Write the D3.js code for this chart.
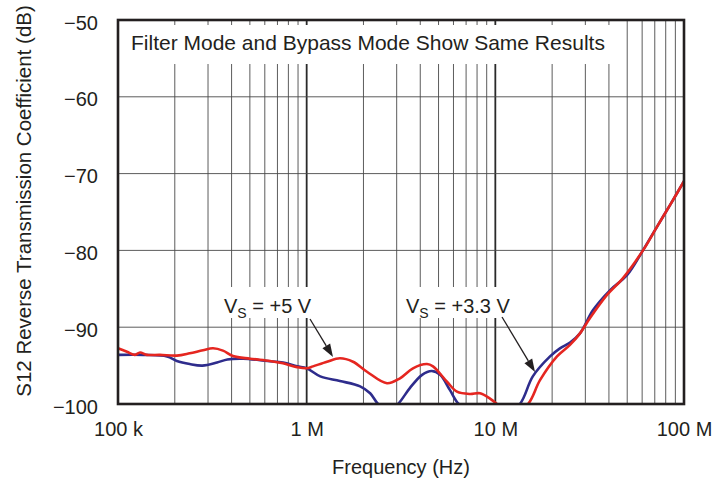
<!DOCTYPE html>
<html>
<head>
<meta charset="utf-8">
<script src="https://cdn.jsdelivr.net/npm/d3@7/dist/d3.min.js"></script>
<style>
  html, body { margin: 0; padding: 0; background: #fff; }
  svg { display: block; }
  text { font-family: "Liberation Sans", Arial, Helvetica, sans-serif; fill: #231f20; }
</style>
</head>
<body>
<svg id="chart" width="717" height="478"></svg>
<script>
// ---- data (frequency in Hz, S12 in dB) ----
const yTickValues = [-50, -60, -70, -80, -90, -100];
const xTickValues = [1e5, 1e6, 1e7, 1e8];
const xTickLabels = ["100 k", "1 M", "10 M", "100 M"];

// Vs = +5 V (red)
const freq5V = [1e5, 1.116e5, 1.23e5, 1.308e5, 1.424e5, 1.67e5, 2.05e5, 2.4e5, 2.82e5, 3.19e5, 3.6e5, 4.07e5,
  5.01e5, 6.39e5, 7.49e5, 8.89e5, 1.0e6, 1.08e6, 1.282e6, 1.5e6, 1.76e6, 2.088e6, 2.666e6, 3.124e6, 3.66e6,
  4.343e6, 4.673e6, 5.544e6, 6.263e6, 7.34e6, 8.29e6, 9.37e6, 1.02e7, 1.2e7, 1.49e7, 1.725e7, 2.123e7,
  2.487e7, 2.81e7, 3.176e7, 3.907e7, 4.751e7, 6.06e7, 7.2e7, 8.43e7, 1e8];
const s12_5V = [-92.75, -93.2, -93.6, -93.3, -93.6, -93.6, -93.7, -93.4, -93.0, -92.75, -93.05, -93.75,
  -94.1, -94.4, -94.7, -95.2, -95.35, -95.1, -94.5, -94.05, -94.5, -95.8, -97.3, -96.65, -95.35,
  -94.8, -95.1, -97.1, -98.4, -98.7, -98.6, -99.3, -100.0, -101.5, -100.0, -96.9, -93.8,
  -92.3, -90.8, -88.8, -85.8, -83.6, -80.0, -76.9, -74.1, -71.0];

// Vs = +3.3 V (blue)
const freq3V3 = [1e5, 1.36e5, 1.82e5, 2.05e5, 2.4e5, 2.8e5, 3.35e5, 3.8e5, 4.6e5, 6.2e5, 7.5e5, 8.9e5,
  1.0e6, 1.18e6, 1.5e6, 1.92e6, 2.17e6, 2.39e6, 2.7e6, 3.05e6, 3.53e6, 4.09e6, 4.6e6, 5.1e6, 5.75e6,
  6.4e6, 8e6, 1.1e7, 1.35e7, 1.58e7, 1.95e7, 2.2e7, 2.49e7, 2.81e7, 3.29e7, 4.05e7, 5e7, 6.06e7,
  7.2e7, 8.43e7, 1e8];
const s12_3V3 = [-93.6, -93.6, -93.8, -94.4, -94.8, -95.0, -94.6, -94.2, -94.1, -94.4, -94.6, -95.1,
  -95.35, -96.4, -97.0, -97.7, -98.6, -100.0, -101.0, -100.0, -97.9, -96.2, -95.7, -96.2, -98.2,
  -100.0, -101.5, -101.5, -100.0, -96.4, -93.8, -92.75, -92.0, -90.8, -87.8, -85.2, -83.2, -80.0,
  -76.9, -74.1, -71.0];

const titleText = "Filter Mode and Bypass Mode Show Same Results";
const xTitle = "Frequency (Hz)";
const yTitle = "S12 Reverse Transmission Coefficient (dB)";

// ---- layout ----
const svg = d3.select("#chart");
const L = 118, R = 684, T = 20, B = 404;
const x = d3.scaleLog().domain([1e5, 1e8]).range([L, R]);
const y = d3.scaleLinear().domain([-100, -50]).range([B, T]);

svg.append("defs").append("clipPath").attr("id", "plotclip")
  .append("rect").attr("x", L).attr("y", T).attr("width", R - L).attr("height", B - T);

// grid
const grid = svg.append("g");
const minor = x.ticks().filter(d => d > 1e5 && d < 1e8);
grid.selectAll("line.v").data(minor).enter().append("line")
  .attr("x1", d => x(d)).attr("x2", d => x(d)).attr("y1", T).attr("y2", B)
  .attr("stroke", d => xTickValues.includes(d) ? "#2a2a2a" : "#4a4a4a")
  .attr("stroke-width", d => xTickValues.includes(d) ? 1.8 : 0.9);
grid.selectAll("line.h").data(yTickValues.slice(1, -1)).enter().append("line")
  .attr("x1", L).attr("x2", R).attr("y1", d => y(d)).attr("y2", d => y(d))
  .attr("stroke", "#4a4a4a").attr("stroke-width", 0.9);

// white boxes behind texts
svg.append("rect").attr("x", L + 2).attr("y", 25).attr("width", 500).attr("height", 39).attr("fill", "#fff");
svg.append("rect").attr("x", 218).attr("y", 287).attr("width", 100).attr("height", 31).attr("fill", "#fff");
svg.append("rect").attr("x", 400).attr("y", 287).attr("width", 103).attr("height", 31).attr("fill", "#fff");

// curves
const line = d3.line().x(d => x(d[0])).y(d => y(d[1])).curve(d3.curveCatmullRom.alpha(0.5));
const curves = svg.append("g").attr("clip-path", "url(#plotclip)");
curves.append("path").datum(d3.zip(freq3V3, s12_3V3)).attr("d", line)
  .attr("fill", "none").attr("stroke", "#2e2c8c").attr("stroke-width", 2.6).attr("stroke-linejoin", "round");
curves.append("path").datum(d3.zip(freq5V, s12_5V)).attr("d", line)
  .attr("fill", "none").attr("stroke", "#e52620").attr("stroke-width", 2.6).attr("stroke-linejoin", "round");

// border
svg.append("rect").attr("x", L).attr("y", T).attr("width", R - L).attr("height", B - T)
  .attr("fill", "none").attr("stroke", "#231f20").attr("stroke-width", 2.6);

// axes
const yAxis = svg.append("g").attr("transform", `translate(${L},0)`)
  .call(d3.axisLeft(y).tickValues(yTickValues).tickSize(0).tickPadding(20)
    .tickFormat(d => String(d).replace("-", "\u2212")));
yAxis.select(".domain").remove();
yAxis.selectAll("text").attr("dy", "0.45em").style("font-size", "20px").attr("fill", "#231f20");

const xAxis = svg.append("g").attr("transform", `translate(0,${B})`)
  .call(d3.axisBottom(x).tickValues(xTickValues).tickSize(0)
    .tickFormat((d, i) => xTickLabels[i]));
xAxis.select(".domain").remove();
xAxis.selectAll("text").attr("y", 32).attr("dy", 0).style("font-size", "20px").attr("fill", "#231f20");

// titles
svg.append("text").attr("x", 131).attr("y", 50).style("font-size", "21px").text(titleText);
svg.append("text").attr("x", (L + R) / 2).attr("y", 474).attr("text-anchor", "middle")
  .style("font-size", "20px").text(xTitle);
svg.append("text").attr("transform", `translate(31,${(T + B) / 2 - 11}) rotate(-90)`)
  .attr("text-anchor", "middle").style("font-size", "20.5px").text(yTitle);

// annotations
function vsLabel(x0, rest) {
  const t = svg.append("text").attr("x", x0).attr("y", 313).style("font-size", "20px");
  t.append("tspan").text("V");
  t.append("tspan").attr("dy", 5).style("font-size", "14px").text("S");
  t.append("tspan").attr("dy", -5).text(rest);
}
vsLabel(224, " = +5 V");
vsLabel(406, " = +3.3 V");

function arrow(x1, y1, x2, y2) {
  const ang = Math.atan2(y2 - y1, x2 - x1);
  const len = 13, w = 4.5;
  const bx = x2 - len * Math.cos(ang), by = y2 - len * Math.sin(ang);
  svg.append("line").attr("x1", x1).attr("y1", y1).attr("x2", bx).attr("y2", by)
    .attr("stroke", "#231f20").attr("stroke-width", 1.3);
  const px = -Math.sin(ang) * w, py = Math.cos(ang) * w;
  svg.append("path").attr("d", `M${x2},${y2}L${bx + px},${by + py}L${bx - px},${by - py}Z`).attr("fill", "#231f20");
}
arrow(310, 319, 333, 357);
arrow(502, 317, 535, 372);
</script>
</body>
</html>
